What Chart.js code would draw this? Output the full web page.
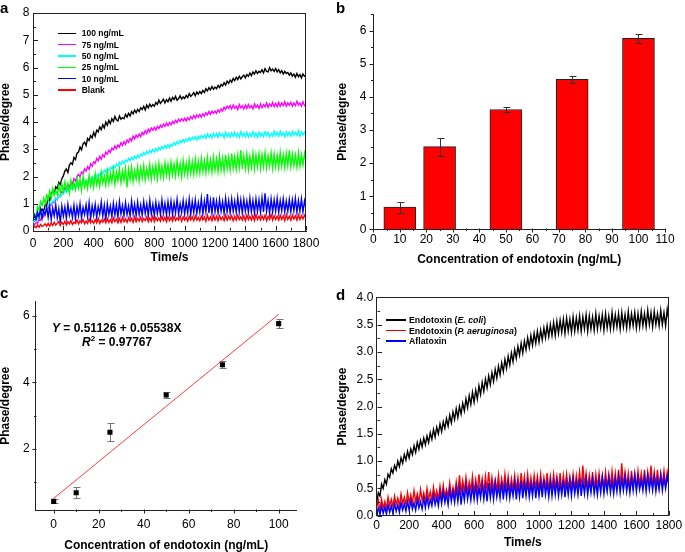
<!DOCTYPE html>
<html><head><meta charset="utf-8">
<script src="https://cdn.jsdelivr.net/npm/chart.js@4/dist/chart.umd.min.js"></script>
<style>
html,body{margin:0;padding:0;background:#fff;overflow:hidden;}
body{width:685px;height:552px;position:relative;font-family:"Liberation Sans",Arial,sans-serif;color:#000;}
canvas{position:absolute;}
.pl{position:absolute;font-weight:bold;font-size:15px;line-height:15px;}
.leg{position:absolute;left:0;top:0;}
.row{position:absolute;height:10px;white-space:nowrap;font-weight:bold;}
.row .ln{position:absolute;height:1.5px;}
.row .tx{position:absolute;top:0;line-height:10px;}
.eq{position:absolute;font-weight:bold;font-size:12px;line-height:14px;white-space:nowrap;}
.eq sup{font-size:8px;line-height:0;vertical-align:5px;}
</style>
</head><body>
<canvas id="ca" width="340" height="272" style="left:0;top:0"></canvas>
<canvas id="cb" width="348" height="272" style="left:337px;top:0"></canvas>
<canvas id="cc" width="340" height="274" style="left:0;top:278px"></canvas>
<canvas id="cd" width="348" height="274" style="left:337px;top:278px"></canvas>
<div class="pl" style="left:0;top:0">a</div>
<div class="pl" style="left:336px;top:0">b</div>
<div class="pl" style="left:0;top:285px">c</div>
<div class="pl" style="left:336px;top:287px">d</div>
<div class="eq" style="left:52px;top:321px"><i>Y</i> = 0.51126 + 0.05538X</div>
<div class="eq" style="left:82px;top:335px"><i>R</i><sup>2</sup> = 0.97767</div>
<div id="legA" class="leg"></div>
<div id="legD" class="leg"></div>
<script>
// ---------- DATA ----------
const timeS = [0,10,20,30,40,50,60,70,80,90,100,110,120,130,140,150,160,170,180,190,
200,210,220,230,240,250,260,270,280,290,300,310,320,330,340,350,360,370,380,390,
400,410,420,430,440,450,460,470,480,490,500,510,520,530,540,550,560,570,580,590,
600,610,620,630,640,650,660,670,680,690,700,710,720,730,740,750,760,770,780,790,
800,810,820,830,840,850,860,870,880,890,900,910,920,930,940,950,960,970,980,990,
1000,1010,1020,1030,1040,1050,1060,1070,1080,1090,1100,1110,1120,1130,1140,1150,1160,1170,1180,1190,
1200,1210,1220,1230,1240,1250,1260,1270,1280,1290,1300,1310,1320,1330,1340,1350,1360,1370,1380,1390,
1400,1410,1420,1430,1440,1450,1460,1470,1480,1490,1500,1510,1520,1530,1540,1550,1560,1570,1580,1590,
1600,1610,1620,1630,1640,1650,1660,1670,1680,1690,1700,1710,1720,1730,1740,1750,1760,1770,1780,1790,1800];

// panel a
const namesA = ['100 ng/mL','75 ng/mL','50 ng/mL','25 ng/mL','10 ng/mL','Blank'];
const colorsA = ['#000000','#ff00ff','#00ffff','#00ff00','#0000ff','#ff0000'];
const phA100 = [0.30,0.41,0.38,0.58,0.49,0.72,0.80,0.69,0.95,0.93,
1.25,1.12,1.38,1.46,1.35,1.62,1.55,1.78,1.70,1.92,
2.02,2.20,2.28,2.15,2.42,2.50,2.44,2.70,2.62,2.86,
2.90,3.08,2.98,3.20,3.26,3.14,3.40,3.32,3.50,3.42,
3.62,3.48,3.70,3.64,3.82,3.72,3.90,3.78,4.00,3.88,
4.06,3.94,4.12,4.02,4.20,4.08,4.04,4.22,4.10,4.16,
4.12,4.28,4.18,4.32,4.22,4.38,4.30,4.44,4.34,4.46,
4.38,4.52,4.46,4.58,4.44,4.62,4.52,4.66,4.56,4.64,
4.58,4.72,4.64,4.80,4.68,4.76,4.84,4.70,4.82,4.74,
4.88,4.76,4.90,4.82,4.94,4.80,4.86,4.96,4.84,4.92,
4.86,4.98,4.90,5.04,4.94,5.00,5.08,4.96,5.10,5.02,
5.12,5.04,5.16,5.08,5.22,5.14,5.26,5.18,5.30,5.20,
5.28,5.22,5.34,5.26,5.38,5.32,5.44,5.36,5.50,5.42,
5.54,5.46,5.60,5.52,5.64,5.56,5.68,5.58,5.66,5.72,
5.62,5.74,5.68,5.80,5.70,5.84,5.76,5.88,5.78,5.86,
5.82,5.92,5.80,5.96,5.86,5.84,6.00,5.88,5.94,5.86,
5.96,5.84,5.92,5.80,5.88,5.76,5.86,5.78,5.82,5.72,
5.80,5.68,5.76,5.64,5.78,5.66,5.74,5.62,5.76,5.68,5.66];
const phA75 = [0.15,0.24,0.30,0.28,0.44,0.40,0.56,0.52,0.68,0.72,
0.84,0.98,0.94,1.08,1.04,1.20,1.14,1.32,1.26,1.44,
1.40,1.58,1.54,1.70,1.62,1.80,1.74,1.92,1.84,2.00,
2.08,1.98,2.16,2.10,2.28,2.20,2.36,2.26,2.46,2.38,
2.54,2.48,2.66,2.58,2.74,2.64,2.80,2.72,2.90,2.82,
2.96,2.88,3.04,2.98,3.12,3.02,3.16,3.08,3.24,3.14,
3.28,3.18,3.34,3.26,3.40,3.30,3.48,3.38,3.52,3.44,
3.56,3.46,3.62,3.54,3.68,3.58,3.74,3.64,3.78,3.70,
3.80,3.70,3.84,3.76,3.88,3.80,3.92,3.84,3.96,3.86,
3.98,3.90,4.02,3.94,4.06,3.98,4.10,4.02,4.12,4.04,
4.14,4.04,4.16,4.08,4.20,4.12,4.24,4.14,4.26,4.18,
4.28,4.18,4.30,4.22,4.34,4.26,4.38,4.28,4.40,4.32,
4.40,4.32,4.44,4.36,4.48,4.40,4.54,4.46,4.58,4.50,
4.60,4.48,4.62,4.50,4.58,4.46,4.64,4.52,4.60,4.48,
4.62,4.50,4.64,4.52,4.60,4.48,4.66,4.54,4.62,4.50,
4.66,4.52,4.64,4.56,4.70,4.54,4.66,4.58,4.72,4.56,
4.68,4.56,4.72,4.58,4.70,4.60,4.74,4.58,4.70,4.62,
4.72,4.58,4.70,4.60,4.76,4.62,4.70,4.58,4.74,4.60,4.62];
const phA50 = [0.30,0.38,0.36,0.50,0.46,0.62,0.58,0.74,0.72,0.86,
0.92,1.04,0.98,1.12,1.08,1.22,1.16,1.30,1.26,1.38,
1.36,1.48,1.42,1.54,1.48,1.60,1.52,1.66,1.58,1.68,
1.62,1.74,1.68,1.80,1.74,1.86,1.80,1.92,1.86,1.98,
1.92,2.04,1.98,2.10,2.04,2.18,2.10,2.24,2.16,2.28,
2.22,2.34,2.28,2.40,2.32,2.46,2.38,2.52,2.44,2.56,
2.48,2.60,2.54,2.66,2.58,2.70,2.62,2.74,2.66,2.78,
2.70,2.82,2.76,2.88,2.80,2.92,2.84,2.96,2.88,3.00,
2.90,3.02,2.94,3.06,2.98,3.10,3.02,3.14,3.04,3.16,
3.06,3.18,3.12,3.24,3.16,3.28,3.20,3.32,3.24,3.36,
3.26,3.38,3.30,3.42,3.32,3.44,3.36,3.46,3.34,3.48,
3.38,3.50,3.42,3.52,3.40,3.56,3.44,3.54,3.42,3.58,
3.46,3.58,3.44,3.60,3.48,3.56,3.42,3.62,3.46,3.58,
3.44,3.60,3.48,3.62,3.46,3.58,3.44,3.64,3.48,3.60,
3.46,3.62,3.44,3.58,3.48,3.64,3.46,3.60,3.44,3.62,
3.48,3.60,3.46,3.64,3.50,3.62,3.46,3.58,3.48,3.66,
3.50,3.62,3.48,3.66,3.50,3.60,3.46,3.64,3.50,3.62,
3.48,3.66,3.52,3.62,3.50,3.68,3.48,3.64,3.52,3.62,3.55];
const phA25 = [0.40,0.62,0.55,0.88,0.76,1.08,0.94,1.20,1.02,1.30,
1.12,1.46,1.22,1.56,1.30,1.48,1.34,1.66,1.40,1.72,
1.44,1.80,1.50,1.74,1.40,1.86,1.56,1.78,1.52,1.92,
1.58,1.90,1.50,2.00,1.62,1.84,1.56,2.04,1.66,1.94,
1.60,2.10,1.70,1.98,1.64,2.14,1.76,2.02,1.68,2.18,
1.74,2.12,1.80,2.24,1.72,2.16,1.84,2.28,1.78,2.20,
1.86,2.30,1.60,2.26,1.88,2.34,1.82,2.22,1.90,2.36,
1.84,2.32,1.94,2.40,1.88,2.28,1.96,2.44,1.90,2.36,
1.98,2.42,1.92,2.48,2.00,2.38,1.96,2.50,2.04,2.44,
1.98,2.52,2.06,2.46,2.02,2.56,2.08,2.48,2.00,2.58,
2.10,2.50,2.06,2.60,2.12,2.54,2.08,2.64,2.14,2.56,
2.12,2.66,2.18,2.58,2.14,2.70,2.20,2.62,2.16,2.72,
2.22,2.64,2.18,2.76,2.24,2.68,2.20,2.80,2.28,2.70,
2.24,2.84,2.30,2.72,2.26,2.78,2.32,2.96,2.28,2.76,
2.30,2.82,2.26,2.74,2.34,2.86,2.28,2.78,2.36,2.84,
2.30,2.80,2.36,2.88,2.32,2.76,2.38,2.86,2.30,2.82,
2.36,2.78,2.32,2.88,2.38,2.80,2.34,2.86,2.40,2.96,
2.36,2.82,2.40,2.78,2.34,2.88,2.38,2.80,2.42,2.84,2.55];
const phA10 = [0.40,0.58,0.44,0.70,0.52,0.80,0.46,0.74,0.60,0.86,
0.50,0.90,0.42,0.84,0.56,0.96,0.48,0.82,0.30,0.92,
0.54,0.88,0.46,0.98,0.58,0.84,0.50,0.94,0.44,0.90,
0.56,1.00,0.48,0.86,0.60,0.96,0.52,1.04,0.46,0.92,
0.58,0.98,0.50,0.90,0.62,1.06,0.54,0.94,0.40,1.00,
0.60,0.92,0.52,1.02,0.58,0.96,0.50,1.08,0.62,0.94,
0.56,1.04,0.60,0.92,0.54,1.10,0.62,0.98,0.56,1.06,
0.60,0.96,0.58,1.08,0.64,1.00,0.56,1.12,0.62,0.98,
0.58,1.06,0.64,1.00,0.60,1.14,0.66,1.02,0.58,1.08,
0.64,1.10,0.60,1.04,0.66,1.16,0.62,1.00,0.68,1.12,
0.62,1.06,0.66,1.18,0.60,1.08,0.68,1.14,0.64,1.04,
0.68,1.20,0.62,1.10,0.70,1.36,0.66,1.12,0.64,1.24,
0.70,1.10,0.66,1.16,0.72,1.08,0.64,1.20,0.70,1.12,
0.66,1.18,0.72,1.10,0.68,1.22,0.70,1.14,0.66,1.16,
0.72,1.10,0.68,1.20,0.70,1.12,0.66,1.18,0.72,1.14,
0.68,1.22,0.70,1.38,0.72,1.12,0.66,1.18,0.70,1.14,
0.72,1.20,0.68,1.12,0.74,1.18,0.70,1.10,0.72,1.16,
0.70,1.14,0.74,1.20,0.68,1.12,0.72,1.18,0.70,1.10,0.82];
const phABlank = [0.10,0.18,0.12,0.22,0.14,0.24,0.16,0.20,0.26,0.18,
0.28,0.18,0.30,0.20,0.32,0.22,0.28,0.34,0.20,0.32,
0.24,0.36,0.22,0.34,0.26,0.38,0.24,0.32,0.28,0.40,
0.26,0.38,0.30,0.42,0.26,0.36,0.28,0.44,0.30,0.38,
0.28,0.42,0.30,0.46,0.28,0.40,0.32,0.44,0.30,0.46,
0.32,0.42,0.30,0.48,0.34,0.44,0.30,0.46,0.32,0.50,
0.34,0.44,0.32,0.48,0.36,0.46,0.32,0.52,0.34,0.46,
0.36,0.50,0.34,0.46,0.38,0.52,0.34,0.48,0.36,0.54,
0.34,0.50,0.38,0.48,0.36,0.54,0.38,0.50,0.34,0.52,
0.38,0.50,0.36,0.54,0.38,0.48,0.40,0.56,0.36,0.52,
0.40,0.50,0.36,0.54,0.40,0.52,0.38,0.56,0.40,0.50,
0.38,0.54,0.40,0.52,0.36,0.58,0.40,0.52,0.38,0.56,
0.40,0.54,0.38,0.56,0.42,0.52,0.38,0.58,0.40,0.54,
0.42,0.56,0.38,0.54,0.40,0.58,0.42,0.52,0.40,0.56,
0.38,0.58,0.42,0.54,0.40,0.56,0.38,0.60,0.42,0.54,
0.40,0.56,0.42,0.58,0.38,0.54,0.42,0.60,0.40,0.56,
0.42,0.54,0.40,0.58,0.42,0.56,0.38,0.60,0.42,0.54,
0.40,0.58,0.44,0.56,0.40,0.60,0.42,0.56,0.44,0.58,0.46];

// panel b
const concB = [10,25,50,75,100];
const phaseB = [0.67,2.50,3.62,4.53,5.77];
const errB = [0.17,0.27,0.08,0.10,0.13];

// panel c
const concC = [0,10,25,50,75,100];
const phaseC = [0.42,0.68,2.50,3.62,4.53,5.77];
const errC = [0.06,0.17,0.27,0.08,0.10,0.13];
const fitX = [0,100];
const fitY = [0.51,6.05];

// panel d
const namesD = ['Endotoxin (<i>E. coli</i>)','Endotoxin (<i>P. aeruginosa</i>)','Aflatoxin'];
const colorsD = ['#000000','#ff0000','#0000ff'];
const phDEcoli = [0.25,0.42,0.36,0.58,0.50,0.66,0.58,0.76,0.70,0.86,
0.78,0.92,0.84,1.00,0.90,1.06,0.96,1.12,1.02,1.18,
1.06,1.22,1.12,1.28,1.16,1.34,1.22,1.38,1.26,1.42,
1.30,1.46,1.34,1.52,1.40,1.58,1.44,1.62,1.50,1.68,
1.54,1.72,1.60,1.78,1.64,1.84,1.70,1.90,1.76,1.96,
1.80,2.00,1.86,2.06,1.92,2.14,1.98,2.20,2.04,2.26,
2.08,2.30,2.14,2.38,2.22,2.44,2.28,2.50,2.34,2.56,
2.40,2.62,2.46,2.68,2.52,2.74,2.58,2.80,2.64,2.86,
2.70,2.92,2.76,2.98,2.82,3.04,2.88,3.10,2.94,3.16,
2.98,3.20,3.04,3.26,3.08,3.30,3.12,3.34,3.16,3.38,
3.18,3.40,3.22,3.44,3.26,3.48,3.28,3.50,3.30,3.54,
3.30,3.56,3.34,3.58,3.36,3.60,3.34,3.62,3.38,3.60,
3.36,3.64,3.38,3.62,3.40,3.66,3.38,3.64,3.42,3.68,
3.38,3.66,3.42,3.64,3.40,3.70,3.42,3.66,3.44,3.68,
3.40,3.70,3.44,3.66,3.42,3.72,3.44,3.68,3.46,3.70,
3.42,3.72,3.46,3.68,3.44,3.74,3.46,3.70,3.48,3.72,
3.44,3.70,3.46,3.74,3.48,3.70,3.46,3.76,3.50,3.72,
3.46,3.74,3.50,3.70,3.48,3.76,3.50,3.72,3.48,3.78,3.58];
const phDPaer = [0.15,0.28,0.10,0.30,0.14,0.26,0.12,0.34,0.18,0.30,
0.16,0.36,0.20,0.32,0.18,0.40,0.22,0.34,0.20,0.42,
0.24,0.38,0.22,0.46,0.26,0.40,0.24,0.48,0.28,0.42,
0.26,0.50,0.30,0.44,0.28,0.52,0.32,0.46,0.30,0.54,
0.32,0.56,0.34,0.48,0.36,0.60,0.34,0.52,0.38,0.62,
0.40,0.74,0.42,0.64,0.44,0.70,0.42,0.62,0.46,0.72,
0.42,0.66,0.44,0.76,0.46,0.68,0.42,0.72,0.46,0.80,
0.44,0.70,0.48,0.66,0.46,0.74,0.44,0.68,0.48,0.76,
0.46,0.72,0.44,0.68,0.48,0.74,0.46,0.70,0.44,0.78,
0.48,0.72,0.46,0.76,0.48,0.70,0.46,0.74,0.50,0.72,
0.46,0.76,0.48,0.70,0.50,0.78,0.46,0.72,0.48,0.76,
0.50,0.72,0.48,0.78,0.46,0.74,0.50,0.76,0.48,0.72,
0.50,0.76,0.48,0.74,0.52,0.80,0.50,0.92,0.54,0.78,
0.50,0.74,0.52,0.80,0.48,0.76,0.52,0.78,0.50,0.74,
0.52,0.80,0.50,0.76,0.54,0.82,0.52,0.78,0.50,0.84,
0.54,0.96,0.52,0.80,0.54,0.78,0.50,0.82,0.54,0.78,
0.52,0.82,0.56,0.78,0.54,0.84,0.52,0.80,0.56,0.92,
0.54,0.80,0.56,0.84,0.52,0.78,0.56,0.82,0.54,0.80,0.62];
const phDAfla = [0.05,0.14,0.02,0.18,0.04,0.16,0.03,0.20,0.06,0.18,
0.04,0.22,0.08,0.20,0.06,0.24,0.10,0.22,0.08,0.26,
0.10,0.28,0.12,0.24,0.10,0.30,0.14,0.26,0.12,0.32,
0.14,0.34,0.16,0.30,0.18,0.38,0.20,0.34,0.18,0.42,
0.22,0.44,0.24,0.40,0.20,0.48,0.26,0.44,0.24,0.50,
0.26,0.52,0.20,0.48,0.28,0.56,0.30,0.50,0.28,0.54,
0.30,0.56,0.28,0.52,0.32,0.58,0.30,0.54,0.26,0.60,
0.32,0.56,0.30,0.60,0.34,0.54,0.32,0.62,0.30,0.58,
0.34,0.60,0.32,0.56,0.36,0.62,0.30,0.58,0.34,0.64,
0.32,0.60,0.36,0.62,0.34,0.58,0.36,0.64,0.32,0.60,
0.36,0.62,0.34,0.66,0.38,0.60,0.34,0.64,0.36,0.62,
0.38,0.64,0.36,0.60,0.38,0.66,0.34,0.62,0.38,0.64,
0.36,0.66,0.40,0.62,0.38,0.68,0.36,0.64,0.40,0.66,
0.38,0.64,0.42,0.68,0.40,0.62,0.38,0.66,0.42,0.70,
0.40,0.66,0.44,0.70,0.42,0.64,0.40,0.68,0.44,0.72,
0.42,0.68,0.46,0.72,0.44,0.66,0.42,0.70,0.46,0.74,
0.44,0.70,0.48,0.66,0.46,0.72,0.44,0.74,0.48,0.70,
0.46,0.72,0.44,0.68,0.48,0.74,0.46,0.70,0.50,0.72,0.55];

// tick labels
const ticksTime = [0,200,400,600,800,1000,1200,1400,1600,1800];
const ticksA_y = [0,1,2,3,4,5,6,7,8];
const ticksB_x = [0,10,20,30,40,50,60,70,80,90,100,110];
const ticksB_y = [0,1,2,3,4,5,6];
const ticksC_x = [0,20,40,60,80,100];
const ticksC_y = [2,4,6];
const ticksD_y = [0,0.5,1,1.5,2,2.5,3,3.5,4];

// ---------- SETUP ----------
Chart.defaults.font.family = '"Liberation Sans", Arial, sans-serif';
Chart.defaults.font.size = 12;
Chart.defaults.color = '#000';
Chart.defaults.animation = false;
const AX = '#222';

const deco = {
  id: 'deco',
  afterDraw(chart, args, o) {
    if (!o || !o.x) return;
    const {ctx, chartArea: a, scales} = chart;
    ctx.save();
    ctx.strokeStyle = AX; ctx.lineWidth = 1;
    ctx.beginPath();
    if (o.box) {
      const t = Math.round(a.top) + 0.5, r = Math.round(a.right) - 0.5;
      ctx.moveTo(Math.round(a.left), t); ctx.lineTo(r + 0.5, t);
      ctx.moveTo(r, t); ctx.lineTo(r, Math.round(a.bottom));
    }
    ['x','y'].forEach(k => {
      const s = scales[k], c = o[k], sg = c.dir === 'in' ? 1 : -1;
      const start = Math.ceil((s.min - 1e-9) / c.minor) * c.minor;
      for (let i = 0; ; i++) {
        const v = start + i * c.minor;
        if (v > s.max + 1e-9) break;
        const maj = Math.abs(v / c.major - Math.round(v / c.major)) < 1e-6;
        const len = maj ? c.len : c.mlen;
        const p = Math.round(s.getPixelForValue(v)) + 0.5;
        if (k === 'x') { const b = Math.round(a.bottom) - 0.5; ctx.moveTo(p, b); ctx.lineTo(p, b - sg * len); }
        else { const l = Math.round(a.left) + 0.5; ctx.moveTo(l, p); ctx.lineTo(l + sg * len, p); }
      }
    });
    ctx.stroke();
    ctx.restore();
  }
};

function drawErr(chart, o) {
  const ds = chart.data.datasets[0].data, meta = chart.getDatasetMeta(0), ys = chart.scales.y, ctx = chart.ctx;
  ctx.save(); ctx.strokeStyle = o.color; ctx.lineWidth = 1; ctx.beginPath();
  meta.data.forEach((el, i) => {
    const v = ds[i].y, e = o.errors[i], x = Math.round(el.x) + 0.5;
    const y1 = Math.round(ys.getPixelForValue(v + e)) + 0.5, y2 = Math.round(ys.getPixelForValue(v - e)) + 0.5;
    ctx.moveTo(x, y1); ctx.lineTo(x, y2);
    ctx.moveTo(x - o.cap, y1); ctx.lineTo(x + o.cap + 1, y1);
    ctx.moveTo(x - o.cap, y2); ctx.lineTo(x + o.cap + 1, y2);
  });
  ctx.stroke(); ctx.restore();
}
const errBars = {
  id: 'errBars',
  beforeDatasetsDraw(chart, args, o) { if (o && o.errors && o.under) drawErr(chart, o); },
  afterDatasetsDraw(chart, args, o) { if (o && o.errors && !o.under) drawErr(chart, o); }
};
Chart.register(deco, errBars);

function axis(p) {
  return {
    type: 'linear', min: p.min, max: p.max, offset: false,
    grid: {display: false, drawTicks: false},
    border: {display: true, color: AX, width: 1},
    ticks: {padding: p.pad, autoSkip: false, maxRotation: 0, minRotation: 0, color: '#000',
            font: {size: 12}, callback: p.fmt || (v => String(v))},
    title: {display: true, text: p.title, color: '#000', padding: 0,
            font: {size: 12, weight: 'bold', lineHeight: 1}},
    afterBuildTicks: s => { s.ticks = p.ticks.map(v => ({value: v})); },
    afterFit: s => { if (s.isHorizontal()) s.height = p.size; else s.width = p.size; }
  };
}
function base(pad) {
  return {responsive: false, maintainAspectRatio: false, devicePixelRatio: 1, animation: false,
          layout: {padding: pad}, events: []};
}
function xy(xs, ys) { return ys.map((v, i) => ({x: xs[i], y: v})); }
function lineDs(label, vals, color, order) {
  return {label, data: xy(timeS, vals), borderColor: color, backgroundColor: color,
          borderWidth: 1.4, pointRadius: 0, tension: 0, order};
}

// ---------- PANEL A ----------
const seriesA = [phA100, phA75, phA50, phA25, phA10, phABlank];
{
  const o = base({top: 13, right: 34, bottom: 8, left: 0});
  o.scales = {
    x: axis({min: 0, max: 1800, ticks: ticksTime, title: 'Time/s', pad: 5.3, size: 33}),
    y: axis({min: 0, max: 8, ticks: ticksA_y, title: 'Phase/degree', pad: 3.5, size: 33})
  };
  o.plugins = {legend: {display: false}, tooltip: {enabled: false},
    deco: {box: true, x: {major: 200, minor: 100, len: 4.5, mlen: 2.5, dir: 'in'},
                      y: {major: 1, minor: 0.5, len: 4.5, mlen: 2.5, dir: 'in'}}};
  new Chart(document.getElementById('ca'), {type: 'line',
    data: {datasets: seriesA.map((s, i) => lineDs(namesA[i], s, colorsA[i], 5 - i))}, options: o});
}

// ---------- PANEL B ----------
{
  const o = base({top: 13.4, right: 20, bottom: 6, left: 0});
  o.scales = {
    x: axis({min: 0, max: 110, ticks: ticksB_x, title: 'Concentration of endotoxin (ng/mL)', pad: 3.5, size: 36.7}),
    y: axis({min: 0, max: 6.5, ticks: ticksB_y, title: 'Phase/degree', pad: 7, size: 36.3})
  };
  o.plugins = {legend: {display: false}, tooltip: {enabled: false},
    errBars: {errors: errB, color: '#333', cap: 3},
    deco: {box: false, x: {major: 10, minor: 5, len: 4, mlen: 2.5, dir: 'out'},
                       y: {major: 1, minor: 0.5, len: 4, mlen: 2.5, dir: 'out'}}};
  new Chart(document.getElementById('cb'), {type: 'bar',
    data: {datasets: [{label: 'Phase', data: xy(concB, phaseB), backgroundColor: '#ff0000',
      borderColor: '#222', borderWidth: 1, barThickness: 32}]}, options: o});
}

// ---------- PANEL C ----------
{
  const o = base({top: 23.7, right: 43.3, bottom: 0.3, left: 0});
  o.scales = {
    x: axis({min: -8, max: 108, ticks: ticksC_x, title: 'Concentration of endotoxin (ng/mL)', pad: 7.8, size: 41.7}),
    y: axis({min: 0.16, max: 6.43, ticks: ticksC_y, title: 'Phase/degree', pad: 6, size: 35.7})
  };
  o.plugins = {legend: {display: false}, tooltip: {enabled: false},
    errBars: {errors: errC, color: '#777', cap: 3, under: true},
    deco: {box: false, x: {major: 20, minor: 10, len: 4, mlen: 2.5, dir: 'out'},
                       y: {major: 2, minor: 1, len: 4, mlen: 2.5, dir: 'out'}}};
  new Chart(document.getElementById('cc'), {type: 'scatter',
    data: {datasets: [
      {label: 'Phase', data: xy(concC, phaseC), pointStyle: 'rect', pointRadius: 3.6,
       backgroundColor: '#000', borderColor: '#000', borderWidth: 0, showLine: false, order: 0},
      {label: 'Fit', type: 'line', data: xy(fitX, fitY), borderColor: '#ff3b3b', borderWidth: 1,
       pointRadius: 0, order: 1}
    ]}, options: o});
}

// ---------- PANEL D ----------
const seriesD = [phDEcoli, phDPaer, phDAfla];
{
  const o = base({top: 19.3, right: 14, bottom: 3, left: 0});
  o.scales = {
    x: axis({min: 0, max: 1800, ticks: ticksTime, title: 'Time/s', pad: 2.8, size: 33.3}),
    y: axis({min: 0, max: 4, ticks: ticksD_y, title: 'Phase/degree', pad: 3.4, size: 39.7, fmt: v => v.toFixed(1)})
  };
  o.plugins = {legend: {display: false}, tooltip: {enabled: false},
    deco: {box: true, x: {major: 200, minor: 100, len: 4.5, mlen: 2.5, dir: 'in'},
                      y: {major: 0.5, minor: 0.25, len: 4.5, mlen: 2.5, dir: 'in'}}};
  new Chart(document.getElementById('cd'), {type: 'line',
    data: {datasets: seriesD.map((s, i) => lineDs(namesD[i].replace(/<[^>]+>/g, ''), s, colorsD[i], 2 - i))}, options: o});
}

// ---------- LEGENDS (HTML text) ----------
function legend(el, names, colors, p) {
  names.forEach((n, i) => {
    const r = document.createElement('div');
    r.className = 'row';
    r.style.left = '0px';
    r.style.top = (p.y0 + i * p.dy - 5) + 'px';
    r.style.fontSize = p.fs + 'px';
    r.innerHTML = '<span class="ln" style="left:' + p.x0 + 'px;width:' + p.w + 'px;top:4.25px;background:' + colors[i] + '"></span>' +
                  '<span class="tx" style="left:' + p.tx + 'px">' + n + '</span>';
    el.appendChild(r);
  });
}
legend(document.getElementById('legA'), namesA, colorsA, {y0: 33.3, dy: 11.35, x0: 58, w: 18, tx: 81.7, fs: 8.5});
legend(document.getElementById('legD'), namesD, colorsD, {y0: 320, dy: 10.6, x0: 386, w: 20, tx: 409, fs: 8.8});
</script>
</body></html>
